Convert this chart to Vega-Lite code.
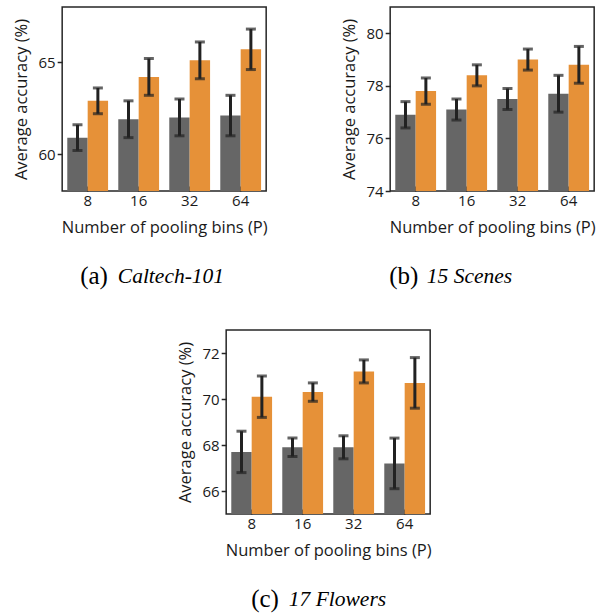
{
  "$schema": "https://vega.github.io/schema/vega-lite/v6.json",
  "padding": {"left": 12, "top": 6, "right": 5, "bottom": 5},
  "background": "white",
  "config": {
    "font": "Open Sans",
    "view": {"stroke": "#262626", "strokeWidth": 1.5},
    "axis": {"grid": false, "labelFont": "Open Sans", "titleFont": "Open Sans", "labelFontSize": 15, "titleFontSize": 16.5, "titleFontWeight": "normal", "labelColor": "#1a1a1a", "titleColor": "#1a1a1a", "tickColor": "#262626", "tickWidth": 1.5, "domain": false},
    "axisX": {"tickSize": -5, "labelPadding": 7, "titlePadding": 11, "labelAngle": 0},
    "axisY": {"tickSize": 5, "labelPadding": 2, "titlePadding": 9},
    "title": {"font": "Liberation Serif", "fontSize": 25, "fontWeight": "normal", "color": "#000000", "subtitleFont": "Liberation Serif", "subtitleFontSize": 21.5, "subtitleFontStyle": "italic", "subtitleColor": "#000000", "subtitlePadding": -23, "offset": 28, "orient": "bottom", "anchor": "start", "frame": "group"}
  },
  "datasets": {
    "caltech": [
      {"P": "8", "method": "base", "acc": 60.9, "lo": 60.2, "hi": 61.6},
      {"P": "8", "method": "ours", "acc": 62.9, "lo": 62.2, "hi": 63.6},
      {"P": "16", "method": "base", "acc": 61.9, "lo": 60.9, "hi": 62.9},
      {"P": "16", "method": "ours", "acc": 64.2, "lo": 63.2, "hi": 65.2},
      {"P": "32", "method": "base", "acc": 62.0, "lo": 61.0, "hi": 63.0},
      {"P": "32", "method": "ours", "acc": 65.1, "lo": 64.1, "hi": 66.1},
      {"P": "64", "method": "base", "acc": 62.1, "lo": 61.0, "hi": 63.2},
      {"P": "64", "method": "ours", "acc": 65.7, "lo": 64.6, "hi": 66.8}
    ],
    "scenes": [
      {"P": "8", "method": "base", "acc": 76.9, "lo": 76.4, "hi": 77.4},
      {"P": "8", "method": "ours", "acc": 77.8, "lo": 77.3, "hi": 78.3},
      {"P": "16", "method": "base", "acc": 77.1, "lo": 76.7, "hi": 77.5},
      {"P": "16", "method": "ours", "acc": 78.4, "lo": 78.0, "hi": 78.8},
      {"P": "32", "method": "base", "acc": 77.5, "lo": 77.1, "hi": 77.9},
      {"P": "32", "method": "ours", "acc": 79.0, "lo": 78.6, "hi": 79.4},
      {"P": "64", "method": "base", "acc": 77.7, "lo": 77.0, "hi": 78.4},
      {"P": "64", "method": "ours", "acc": 78.8, "lo": 78.1, "hi": 79.5}
    ],
    "flowers": [
      {"P": "8", "method": "base", "acc": 67.7, "lo": 66.8, "hi": 68.6},
      {"P": "8", "method": "ours", "acc": 70.1, "lo": 69.2, "hi": 71.0},
      {"P": "16", "method": "base", "acc": 67.9, "lo": 67.5, "hi": 68.3},
      {"P": "16", "method": "ours", "acc": 70.3, "lo": 69.9, "hi": 70.7},
      {"P": "32", "method": "base", "acc": 67.9, "lo": 67.4, "hi": 68.4},
      {"P": "32", "method": "ours", "acc": 71.2, "lo": 70.7, "hi": 71.7},
      {"P": "64", "method": "base", "acc": 67.2, "lo": 66.1, "hi": 68.3},
      {"P": "64", "method": "ours", "acc": 70.7, "lo": 69.6, "hi": 71.8}
    ]
  },
  "vconcat": [
    {
      "hconcat": [
        {
          "width": 204, "height": 184,
          "data": {"name": "caltech"},
          "title": {"text": "(a)", "subtitle": "\u200b\u00a0\u00a0\u00a0\u00a0\u00a0\u00a0\u00a0Caltech-101", "dx": 18},
          "encoding": {
            "x": {"field": "P", "type": "ordinal", "sort": ["8", "16", "32", "64"], "scale": {"paddingInner": 0.2, "paddingOuter": 0.1}, "axis": {"title": "Number of pooling bins (P)"}},
            "xOffset": {"field": "method", "type": "nominal", "scale": {"paddingInner": 0, "paddingOuter": 0}}
          },
          "layer": [
            {"mark": {"type": "bar", "clip": true}, "encoding": {"y": {"field": "acc", "type": "quantitative", "scale": {"domain": [58, 68], "zero": false, "nice": false}, "axis": {"values": [60, 65], "title": "Average accuracy (%)"}}, "color": {"field": "method", "type": "nominal", "scale": {"domain": ["base", "ours"], "range": ["#666666", "#e69138"]}, "legend": null}}},
            {"mark": {"type": "rule", "strokeWidth": 3, "color": "#222222"}, "encoding": {"y": {"field": "lo", "type": "quantitative", "scale": {"domain": [58, 68], "zero": false, "nice": false}, "axis": {"values": [60, 65], "title": "Average accuracy (%)"}}, "y2": {"field": "hi"}}},
            {"mark": {"type": "tick", "orient": "horizontal", "size": 10, "thickness": 3, "color": "#222222"}, "encoding": {"y": {"field": "lo", "type": "quantitative", "scale": {"domain": [58, 68], "zero": false, "nice": false}, "axis": {"values": [60, 65], "title": "Average accuracy (%)"}}}},
            {"mark": {"type": "tick", "orient": "horizontal", "size": 10, "thickness": 3, "color": "#222222"}, "encoding": {"y": {"field": "hi", "type": "quantitative", "scale": {"domain": [58, 68], "zero": false, "nice": false}, "axis": {"values": [60, 65], "title": "Average accuracy (%)"}}}}
          ]
        },
        {
          "width": 204, "height": 184,
          "data": {"name": "scenes"},
          "title": {"text": "(b)", "subtitle": "\u200b\u00a0\u00a0\u00a0\u00a0\u00a0\u00a0\u00a015 Scenes", "dx": -1},
          "encoding": {
            "x": {"field": "P", "type": "ordinal", "sort": ["8", "16", "32", "64"], "scale": {"paddingInner": 0.2, "paddingOuter": 0.1}, "axis": {"title": "Number of pooling bins (P)"}},
            "xOffset": {"field": "method", "type": "nominal", "scale": {"paddingInner": 0, "paddingOuter": 0}}
          },
          "layer": [
            {"mark": {"type": "bar", "clip": true}, "encoding": {"y": {"field": "acc", "type": "quantitative", "scale": {"domain": [74, 81], "zero": false, "nice": false}, "axis": {"values": [74, 76, 78, 80], "title": "Average accuracy (%)"}}, "color": {"field": "method", "type": "nominal", "scale": {"domain": ["base", "ours"], "range": ["#666666", "#e69138"]}, "legend": null}}},
            {"mark": {"type": "rule", "strokeWidth": 3, "color": "#222222"}, "encoding": {"y": {"field": "lo", "type": "quantitative", "scale": {"domain": [74, 81], "zero": false, "nice": false}, "axis": {"values": [74, 76, 78, 80], "title": "Average accuracy (%)"}}, "y2": {"field": "hi"}}},
            {"mark": {"type": "tick", "orient": "horizontal", "size": 10, "thickness": 3, "color": "#222222"}, "encoding": {"y": {"field": "lo", "type": "quantitative", "scale": {"domain": [74, 81], "zero": false, "nice": false}, "axis": {"values": [74, 76, 78, 80], "title": "Average accuracy (%)"}}}},
            {"mark": {"type": "tick", "orient": "horizontal", "size": 10, "thickness": 3, "color": "#222222"}, "encoding": {"y": {"field": "hi", "type": "quantitative", "scale": {"domain": [74, 81], "zero": false, "nice": false}, "axis": {"values": [74, 76, 78, 80], "title": "Average accuracy (%)"}}}}
          ]
        }
      ],
      "spacing": 72
    },
    {
      "width": 204, "height": 184,
      "data": {"name": "flowers"},
      "title": {"text": "(c)", "subtitle": "\u200b\u00a0\u00a0\u00a0\u00a0\u00a0\u00a0\u00a017 Flowers", "dx": 25},
      "encoding": {
        "x": {"field": "P", "type": "ordinal", "sort": ["8", "16", "32", "64"], "scale": {"paddingInner": 0.2, "paddingOuter": 0.1}, "axis": {"title": "Number of pooling bins (P)"}},
        "xOffset": {"field": "method", "type": "nominal", "scale": {"paddingInner": 0, "paddingOuter": 0}}
      },
      "layer": [
        {"mark": {"type": "bar", "clip": true}, "encoding": {"y": {"field": "acc", "type": "quantitative", "scale": {"domain": [65, 73], "zero": false, "nice": false}, "axis": {"values": [66, 68, 70, 72], "title": "Average accuracy (%)"}}, "color": {"field": "method", "type": "nominal", "scale": {"domain": ["base", "ours"], "range": ["#666666", "#e69138"]}, "legend": null}}},
        {"mark": {"type": "rule", "strokeWidth": 3, "color": "#222222"}, "encoding": {"y": {"field": "lo", "type": "quantitative", "scale": {"domain": [65, 73], "zero": false, "nice": false}, "axis": {"values": [66, 68, 70, 72], "title": "Average accuracy (%)"}}, "y2": {"field": "hi"}}},
        {"mark": {"type": "tick", "orient": "horizontal", "size": 10, "thickness": 3, "color": "#222222"}, "encoding": {"y": {"field": "lo", "type": "quantitative", "scale": {"domain": [65, 73], "zero": false, "nice": false}, "axis": {"values": [66, 68, 70, 72], "title": "Average accuracy (%)"}}}},
        {"mark": {"type": "tick", "orient": "horizontal", "size": 10, "thickness": 3, "color": "#222222"}, "encoding": {"y": {"field": "hi", "type": "quantitative", "scale": {"domain": [65, 73], "zero": false, "nice": false}, "axis": {"values": [66, 68, 70, 72], "title": "Average accuracy (%)"}}}}
      ]
    }
  ],
  "spacing": 39,
  "center": true
}
